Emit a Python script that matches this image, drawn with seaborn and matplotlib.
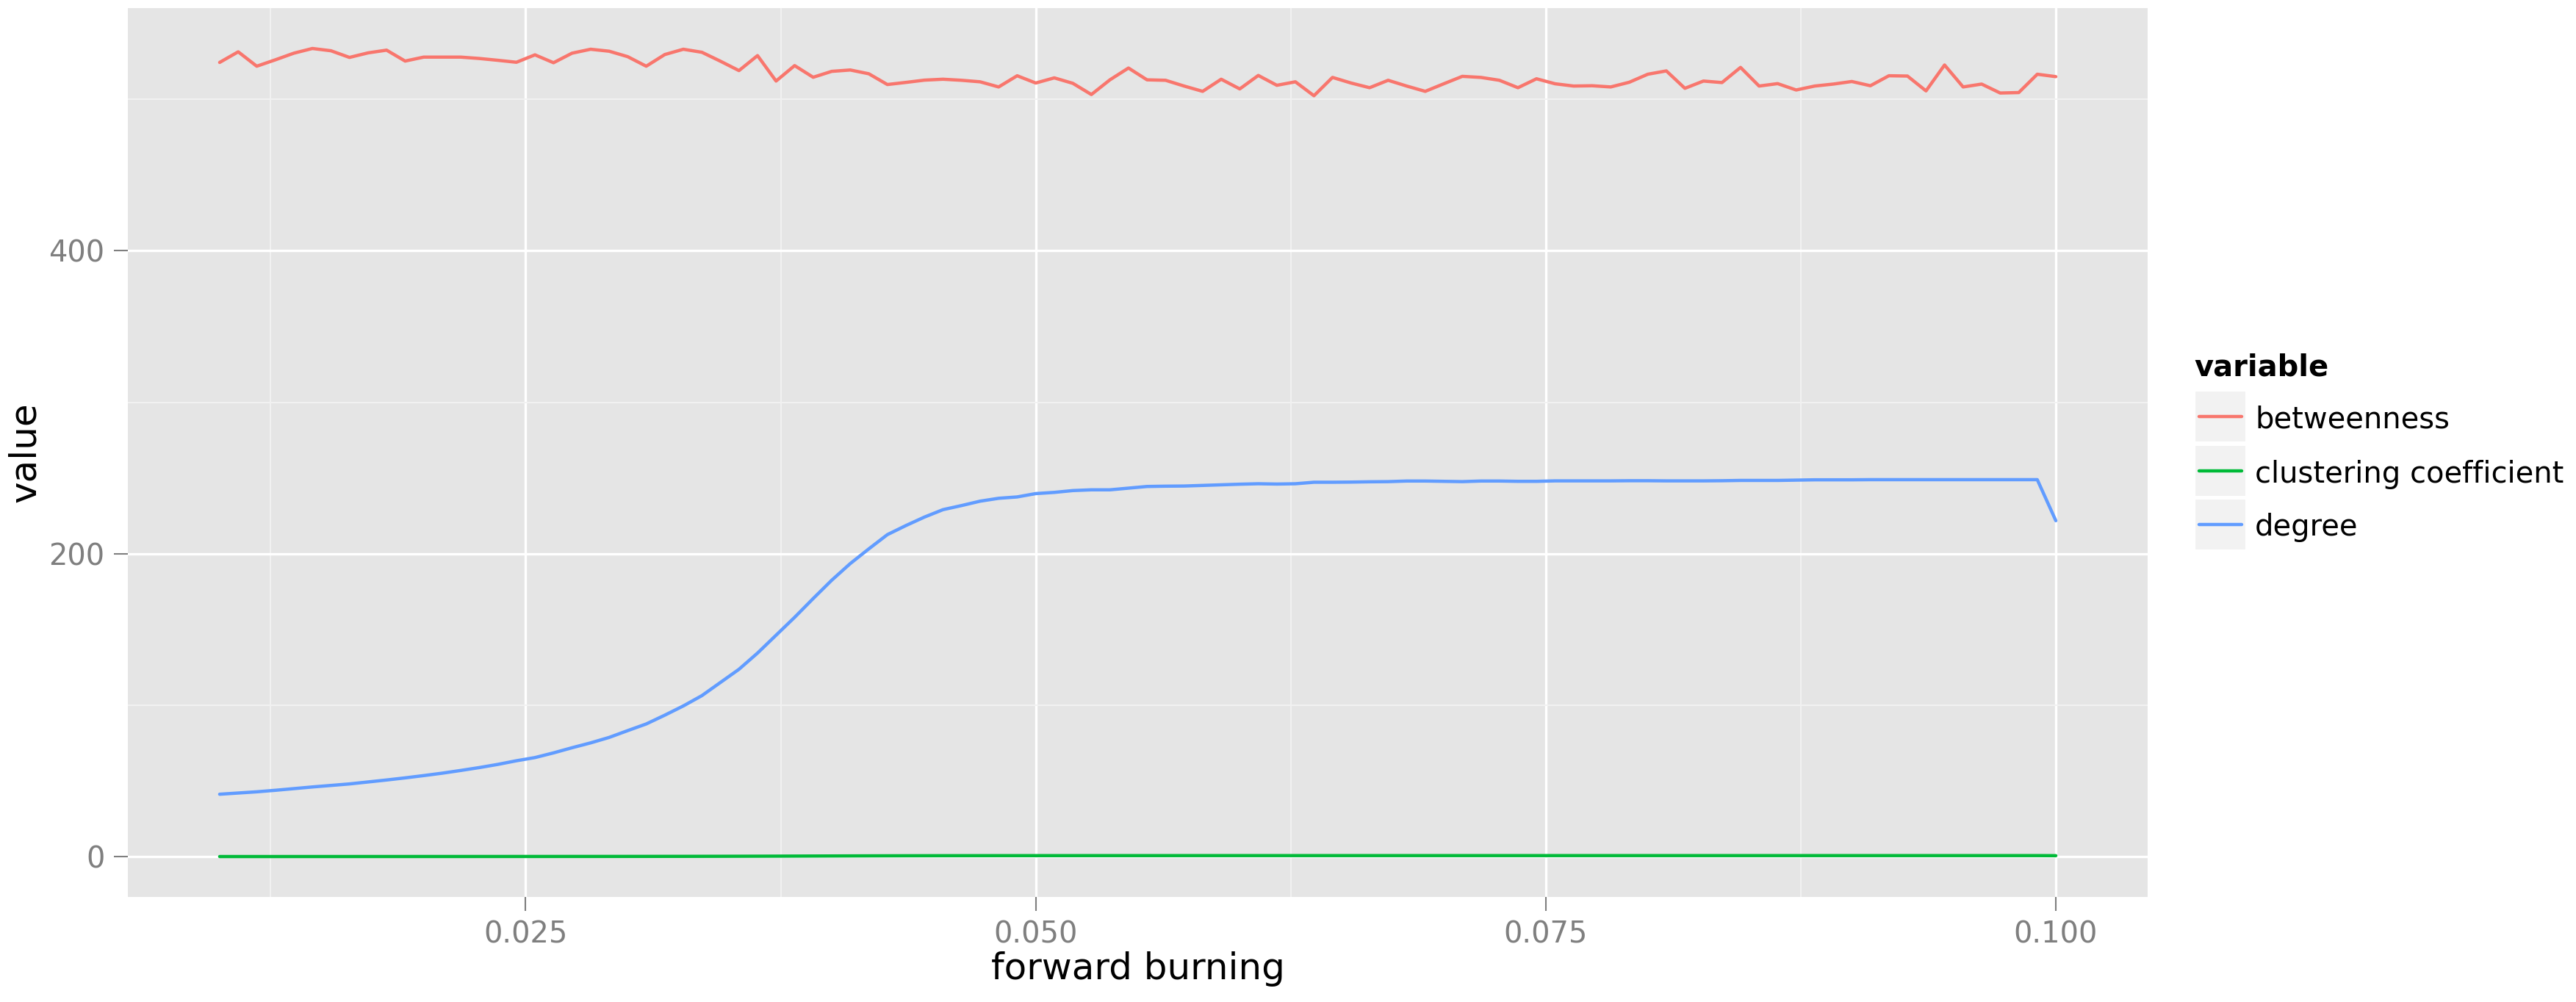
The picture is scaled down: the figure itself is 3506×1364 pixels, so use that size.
import numpy as np
import pandas as pd
import matplotlib
matplotlib.use("Agg")
import matplotlib.pyplot as plt
from matplotlib.patches import Rectangle
from matplotlib.lines import Line2D
import seaborn as sns

# forward burning probability grid (100 runs)
forward_burning = np.linspace(0.01, 0.1, 100)

betweenness = [
    524.4, 531.4, 521.9, 526.1, 530.5, 533.6, 532.1, 527.7, 530.7, 532.5,
    525.3, 527.9, 527.9, 527.9, 527.0, 525.8, 524.5, 529.4, 524.2, 530.5,
    533.1, 531.8, 528.2, 521.9, 529.6, 533.1, 531.1, 525.2, 519.0, 528.9,
    512.1, 522.3, 514.6, 518.5, 519.4, 516.9, 509.8, 511.2, 512.7, 513.3,
    512.6, 511.6, 508.2, 515.6, 510.8, 514.2, 510.6, 503.2, 512.9, 520.7,
    512.9, 512.6, 508.8, 505.3, 513.3, 506.9, 515.8, 509.3, 511.6, 502.4,
    514.5, 510.8, 507.7, 512.6, 508.8, 505.3, 510.3, 515.2, 514.5, 512.6,
    507.7, 513.6, 510.3, 508.8, 509.0, 508.2, 511.3, 516.6, 518.8, 507.3,
    512.1, 511.1, 521.1, 508.8, 510.4, 506.2, 508.8, 510.1, 511.8, 509.0,
    515.6, 515.4, 505.6, 522.7, 508.2, 510.1, 504.2, 504.5, 516.6, 515.0,
]

clustering = [
    0.05, 0.05, 0.05, 0.05, 0.06, 0.06, 0.06, 0.06, 0.07, 0.07,
    0.07, 0.08, 0.08, 0.08, 0.09, 0.09, 0.10, 0.10, 0.11, 0.12,
    0.12, 0.13, 0.14, 0.15, 0.17, 0.18, 0.20, 0.22, 0.25, 0.28,
    0.31, 0.35, 0.39, 0.43, 0.47, 0.51, 0.54, 0.57, 0.59, 0.61,
    0.62, 0.63, 0.64, 0.64, 0.65, 0.65, 0.65, 0.66, 0.66, 0.66,
    0.66, 0.66, 0.67, 0.67, 0.67, 0.67, 0.67, 0.67, 0.67, 0.67,
    0.67, 0.67, 0.67, 0.67, 0.67, 0.67, 0.67, 0.67, 0.67, 0.67,
    0.67, 0.67, 0.67, 0.67, 0.67, 0.67, 0.67, 0.67, 0.67, 0.67,
    0.67, 0.67, 0.67, 0.67, 0.67, 0.67, 0.67, 0.67, 0.67, 0.67,
    0.67, 0.67, 0.67, 0.67, 0.67, 0.67, 0.67, 0.67, 0.67, 0.62,
]

degree = [
    41.2, 42.0, 42.8, 43.8, 44.9, 46.0, 47.0, 48.0, 49.3, 50.6,
    52.0, 53.5, 55.1, 56.9, 58.8, 60.9, 63.3, 65.4, 68.5, 71.9,
    75.1, 78.7, 83.2, 87.6, 93.4, 99.5, 106.3, 115.0, 123.7, 134.4,
    146.2, 158.0, 170.4, 182.5, 193.5, 203.2, 212.6, 218.6, 224.2, 229.1,
    231.8, 234.7, 236.6, 237.5, 239.7, 240.5, 241.7, 242.2, 242.2, 243.3,
    244.4, 244.6, 244.7, 245.1, 245.5, 245.9, 246.2, 246.0, 246.2, 247.2,
    247.2, 247.3, 247.5, 247.6, 248.0, 248.0, 247.8, 247.6, 248.0, 248.0,
    247.8, 247.8, 248.1, 248.1, 248.1, 248.1, 248.2, 248.2, 248.1, 248.1,
    248.1, 248.2, 248.4, 248.4, 248.4, 248.6, 248.8, 248.8, 248.8, 248.9,
    248.9, 248.9, 248.9, 248.9, 248.9, 248.9, 248.9, 248.9, 248.9, 221.8,
]

variables = ["betweenness", "clustering coefficient", "degree"]
colors = ["#F8766D", "#00BA38", "#619CFF"]

x_ticks = [0.025, 0.050, 0.075, 0.100]
x_tick_labels = ["0.025", "0.050", "0.075", "0.100"]
y_ticks = [0, 200, 400]

df = pd.DataFrame({
    "forward burning": np.tile(forward_burning, 3),
    "value": betweenness + clustering + degree,
    "variable": np.repeat(variables, len(forward_burning)),
})

sns.set_theme(style="darkgrid")
plt.rcParams["font.family"] = ["DejaVu Sans"]

W, H, DPI = 3506, 1364, 300
fig = plt.figure(figsize=(W / DPI, H / DPI), dpi=DPI)
fig.patch.set_facecolor("white")

# panel placement in pixels
pl, pr, pt, pb = 174, 2923, 11, 1221
ax = fig.add_axes([pl / W, 1 - pb / H, (pr - pl) / W, (pb - pt) / H])
ax.set_facecolor("#E5E5E5")

sns.lineplot(data=df, x="forward burning", y="value", hue="variable",
             palette=dict(zip(variables, colors)), estimator=None,
             linewidth=1.07, legend=False, ax=ax)

# ggplot-like 5% expansion
xr = forward_burning.max() - forward_burning.min()
ax.set_xlim(forward_burning.min() - 0.05 * xr, forward_burning.max() + 0.05 * xr)
ymax = df["value"].max()
ymin = df["value"].min()
ax.set_ylim(ymin - 0.05 * (ymax - ymin), ymax + 0.05 * (ymax - ymin))

ax.set_xticks(x_ticks)
ax.set_xticklabels(x_tick_labels)
ax.set_xticks([0.0125, 0.0375, 0.0625, 0.0875], minor=True)
ax.set_yticks(y_ticks)
ax.set_yticklabels([str(v) for v in y_ticks])
ax.set_yticks([100, 300, 500], minor=True)

ax.grid(which="major", color="white", linewidth=0.8)
ax.grid(which="minor", color="#F2F2F2", linewidth=0.45)
ax.set_axisbelow(True)
for s in ax.spines.values():
    s.set_visible(False)

ax.tick_params(which="major", length=4.6, width=0.5, color="#7F7F7F",
               labelcolor="#7F7F7F", labelsize=9.6, pad=3.0,
               bottom=True, left=True)
ax.tick_params(which="minor", length=0)
ax.set_xlabel("")
ax.set_ylabel("")

fig.text(1548.5 / W, 1 - 1333 / H, "forward burning", ha="center",
         va="baseline", fontsize=12, color="black")
fig.text(34 / W, 1 - 616 / H, "value", ha="center", va="center",
         rotation=90, fontsize=12, color="black")

# legend drawn as in ggplot: title, grey key boxes, lines, labels
fig.text(2986 / W, 1 - 512 / H, "variable", ha="left", va="baseline",
         fontsize=9.6, fontweight="bold", color="black")
key_tops = [533, 607, 680]
key_h = 68
for top, name, col in zip(key_tops, variables, colors):
    fig.patches.append(Rectangle((2988 / W, 1 - (top + key_h) / H), 68 / W, key_h / H,
                                 transform=fig.transFigure, facecolor="#F2F2F2",
                                 edgecolor="none"))
    yc = 1 - (top + key_h / 2) / H
    fig.lines.append(Line2D([2993 / W, 3051 / W], [yc, yc], transform=fig.transFigure,
                            color=col, linewidth=1.07))
    fig.text(3069 / W, yc, name, ha="left", va="center_baseline",
             fontsize=9.6, color="black")

fig.savefig("out.png", dpi=DPI)
